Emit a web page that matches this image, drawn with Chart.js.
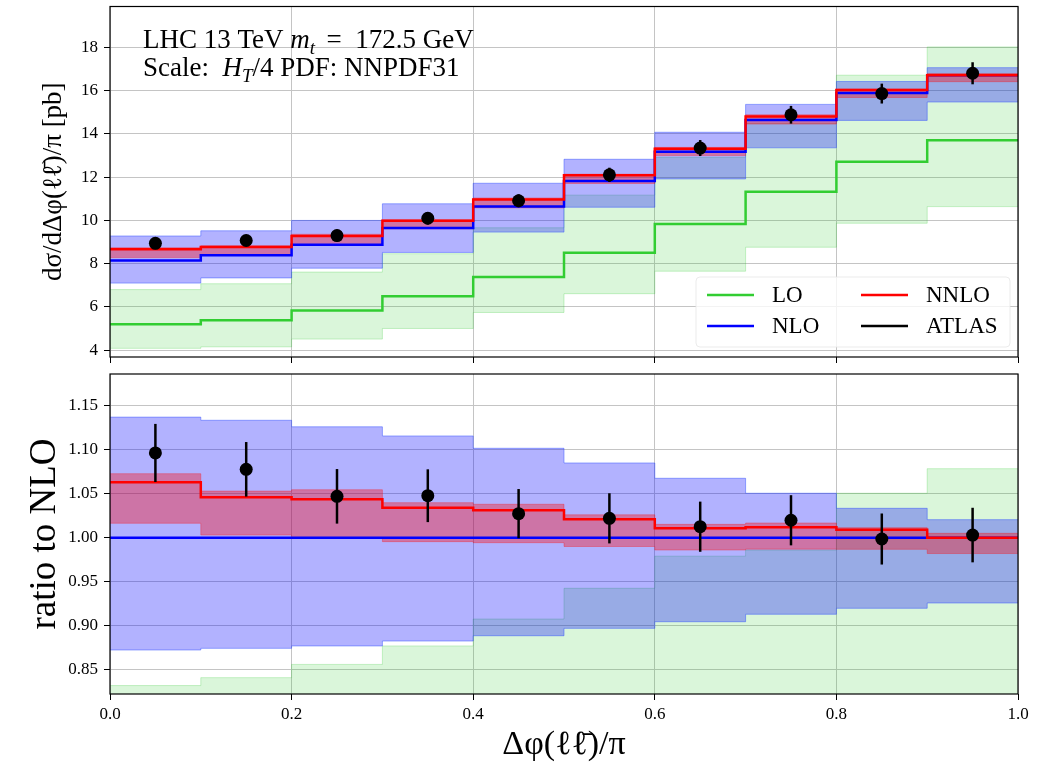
<!DOCTYPE html>
<html>
<head>
<meta charset="utf-8">
<script src="https://cdn.jsdelivr.net/npm/chart.js@4.4.1/dist/chart.umd.min.js"></script>
<style>
  body { margin: 0; background: #fff; }
  #wrap { position: relative; width: 1054px; height: 767px; }
  canvas { position: absolute; left: 0; }
</style>
</head>
<body>
<div id="wrap">
  <canvas id="top" width="1054" height="370" style="top:0px"></canvas>
  <canvas id="ratio" width="1054" height="402" style="top:365px"></canvas>
</div>
<script>
// bins in Δφ/π
const binEdges = [0, 0.1, 0.2, 0.3, 0.4, 0.5, 0.6, 0.7, 0.8, 0.9, 1.0];
const binCenters = [0.05, 0.15, 0.25, 0.35, 0.45, 0.55, 0.65, 0.75, 0.85, 0.95];
const xTicks = [0, 0.2, 0.4, 0.6, 0.8, 1.0];

// upper panel, pb
const loCentral = [5.20, 5.38, 5.83, 6.49, 7.38, 8.50, 9.84, 11.33, 12.71, 13.71];
const loUp = [6.80, 7.07, 7.61, 8.46, 9.66, 11.17, 12.92, 14.50, 16.72, 18.03];
const loDown = [4.08, 4.15, 4.51, 5.00, 5.74, 6.61, 7.65, 8.76, 9.87, 10.64];
const nloCentral = [8.15, 8.39, 8.88, 9.65, 10.64, 11.83, 13.18, 14.65, 15.90, 16.72];
const nloUp = [9.28, 9.52, 10.0, 10.77, 11.72, 12.83, 14.08, 15.37, 16.43, 17.07];
const nloDown = [7.10, 7.34, 7.79, 8.52, 9.46, 10.61, 11.92, 13.36, 14.63, 15.48];
const nnloCentral = [8.67, 8.77, 9.28, 9.98, 10.97, 12.09, 13.32, 14.81, 16.04, 16.72];
const nnloUp = [8.74, 8.83, 9.36, 10.03, 11.04, 12.14, 13.38, 14.89, 16.08, 16.80];
const nnloDown = [8.28, 8.42, 8.87, 9.61, 10.58, 11.71, 13.00, 14.46, 15.69, 16.42];
const atlas = [8.94, 9.07, 9.30, 10.10, 10.91, 12.11, 13.35, 14.89, 15.87, 16.81];
const atlasErr = [0.27, 0.26, 0.28, 0.29, 0.30, 0.33, 0.37, 0.41, 0.46, 0.51];
const topTicks = [4, 6, 8, 10, 12, 14, 16, 18];

// lower panel, ratio to NLO
const loRatioUp = [0.832, 0.841, 0.856, 0.877, 0.9076, 0.9425, 0.979, 0.986, 1.0505, 1.0784];
const nloRatio = [1, 1, 1, 1, 1, 1, 1, 1, 1, 1];
const nloRatioUp = [1.137, 1.1334, 1.126, 1.1156, 1.1016, 1.0849, 1.0675, 1.0505, 1.0334, 1.0205];
const nloRatioDown = [0.8724, 0.8743, 0.877, 0.8826, 0.8886, 0.897, 0.9045, 0.913, 0.9198, 0.9258];
const nnloRatio = [1.063, 1.0459, 1.0436, 1.0341, 1.0311, 1.021, 1.0107, 1.0118, 1.009, 1.0];
const nnloRatioUp = [1.0727, 1.053, 1.0545, 1.0398, 1.038, 1.026, 1.0152, 1.0167, 1.0114, 1.005];
const nnloRatioDown = [1.0164, 1.003, 0.999, 0.9955, 0.9943, 0.990, 0.986, 0.987, 0.9868, 0.982];
const atlasRatio = [1.0963, 1.0777, 1.047, 1.0477, 1.0273, 1.022, 1.0125, 1.0198, 0.9985, 1.003];
const atlasRatioErr = [0.033, 0.031, 0.031, 0.030, 0.028, 0.0285, 0.0285, 0.0285, 0.029, 0.031];
const ratioTicks = [0.85, 0.90, 0.95, 1.00, 1.05, 1.10, 1.15];

const FONT = "'Liberation Serif', 'DejaVu Serif', serif";
const GREEN = '#32cd32', BLUE = '#0000ff', RED = '#ff0000';
const GRID = '#c4c4c4';

// histogram steps: value i holds from edge i to edge i+1
function steps(vals) {
  return binEdges.map((x, i) => ({ x: x, y: vals[Math.max(i - 1, 0)] }));
}
function points(vals) {
  return binCenters.map((x, i) => ({ x: x, y: vals[i] }));
}
function stepLine(vals, color, width, order, extra) {
  return Object.assign({
    type: 'line', data: steps(vals), stepped: 'after', borderColor: color,
    borderWidth: width, pointRadius: 0, fill: false, order: order
  }, extra || {});
}

// plugins
const errbars = {
  id: 'errbars',
  afterDatasetsDraw(chart) {
    const { ctx, scales: { x, y } } = chart;
    chart.data.datasets.forEach(ds => {
      if (!ds.errs) return;
      ctx.save();
      ctx.strokeStyle = '#000';
      ctx.lineWidth = 2.5;
      ds.data.forEach((p, i) => {
        const px = x.getPixelForValue(p.x);
        ctx.beginPath();
        ctx.moveTo(px, y.getPixelForValue(p.y - ds.errs[i]));
        ctx.lineTo(px, y.getPixelForValue(p.y + ds.errs[i]));
        ctx.stroke();
      });
      ctx.restore();
    });
  }
};
const frame = {
  id: 'frame',
  afterDraw(chart) {
    const { ctx, chartArea: a } = chart;
    ctx.save();
    ctx.strokeStyle = '#000';
    ctx.lineWidth = 1.2;
    ctx.strokeRect(a.left, a.top, a.right - a.left, a.bottom - a.top);
    ctx.restore();
  }
};

function drawRuns(ctx, x, y, runs, size) {
  runs.forEach(r => {
    const s = r.sub ? size * 0.7 : size;
    ctx.font = (r.it ? 'italic ' : '') + s + 'px ' + FONT;
    ctx.fillText(r.t, x, r.sub ? y + size * 0.25 : y);
    x += ctx.measureText(r.t).width;
  });
}
const annotation = {
  id: 'annotation',
  afterDatasetsDraw(chart) {
    const { ctx, chartArea: a } = chart;
    ctx.save();
    ctx.fillStyle = '#000';
    ctx.textBaseline = 'alphabetic';
    ctx.textAlign = 'left';
    drawRuns(ctx, a.left + 33, a.top + 41, [
      { t: 'LHC 13 TeV ' }, { t: 'm', it: true }, { t: 't ', it: true, sub: true },
      { t: ' =  172.5 GeV' }
    ], 27);
    drawRuns(ctx, a.left + 33, a.top + 69, [
      { t: 'Scale:  ' }, { t: 'H', it: true }, { t: 'T', it: true, sub: true },
      { t: '/4 PDF: NNPDF31' }
    ], 27);
    ctx.restore();
  }
};

const legendItems = [
  { label: 'LO', color: GREEN }, { label: 'NLO', color: BLUE },
  { label: 'NNLO', color: RED }, { label: 'ATLAS', color: '#000' }
];
const legendBox = {
  id: 'legendBox',
  afterDatasetsDraw(chart) {
    const { ctx, chartArea: a } = chart;
    const w = 314, h = 70;
    const bx = a.right - 8 - w, by = a.bottom - 10 - h;
    ctx.save();
    ctx.fillStyle = 'rgba(255,255,255,0.8)';
    ctx.strokeStyle = 'rgba(230,230,230,0.8)';
    ctx.lineWidth = 1;
    ctx.beginPath();
    ctx.roundRect(bx, by, w, h, 4);
    ctx.fill();
    ctx.stroke();
    ctx.font = '23px ' + FONT;
    ctx.textBaseline = 'middle';
    legendItems.forEach((it, i) => {
      const col = Math.floor(i / 2), row = i % 2;
      const lx = bx + 11 + col * 154;
      const ly = by + 18 + row * 31;
      ctx.strokeStyle = it.color;
      ctx.lineWidth = 2.5;
      ctx.beginPath();
      ctx.moveTo(lx, ly);
      ctx.lineTo(lx + 47, ly);
      ctx.stroke();
      ctx.fillStyle = '#000';
      ctx.fillText(it.label, lx + 65, ly + 1);
    });
    ctx.restore();
  }
};

function yScale(min, max, ticks, fmt, title, titleSize, titlePad) {
  return {
    type: 'linear', min: min, max: max,
    afterBuildTicks: s => { s.ticks = ticks.map(v => ({ value: v })); },
    afterFit: s => { s.width = 110; s.paddingTop = 0; s.paddingBottom = 0; },
    ticks: { font: { family: FONT, size: 17 }, color: '#000', padding: 6, callback: fmt },
    grid: { color: GRID, lineWidth: 1, tickColor: '#000', tickLength: 6 },
    border: { display: false },
    title: {
      display: true, text: title, color: '#000',
      font: { family: FONT, size: titleSize }, padding: { top: titlePad, bottom: 0 }
    }
  };
}
function xScale(showLabels, height) {
  return {
    type: 'linear', min: 0, max: 1,
    afterBuildTicks: s => { s.ticks = xTicks.map(v => ({ value: v })); },
    afterFit: s => { s.height = height; s.paddingLeft = 0; s.paddingRight = 0; },
    ticks: {
      display: showLabels, font: { family: FONT, size: 17 }, color: '#000', padding: 4,
      maxRotation: 0, autoSkip: false, callback: v => v.toFixed(1)
    },
    grid: { color: GRID, lineWidth: 1, tickColor: '#000', tickLength: 6 },
    border: { display: false },
    title: {
      display: showLabels, text: 'Δφ(ℓℓ̄)/π', color: '#000',
      font: { family: FONT, size: 34 }, padding: { top: 0, bottom: 2 }
    }
  };
}
const common = {
  responsive: false, animation: false,
  plugins: { legend: { display: false }, tooltip: { enabled: false } }
};

// upper panel
new Chart(document.getElementById('top'), {
  type: 'line',
  data: {
    datasets: [
      stepLine(loDown, 'rgba(50,205,50,0.25)', 1, 6),
      stepLine(loUp, 'rgba(50,205,50,0.25)', 1, 6, { fill: { target: 0 }, backgroundColor: 'rgba(50,205,50,0.18)' }),
      stepLine(nloDown, 'rgba(40,70,255,0.45)', 1, 5),
      stepLine(nloUp, 'rgba(40,70,255,0.45)', 1, 5, { fill: { target: 2 }, backgroundColor: 'rgba(0,0,255,0.3)' }),
      stepLine(nnloDown, 'rgba(255,0,0,0.3)', 1, 4),
      stepLine(nnloUp, 'rgba(255,0,0,0.3)', 1, 4, { fill: { target: 4 }, backgroundColor: 'rgba(255,0,0,0.35)' }),
      stepLine(loCentral, GREEN, 2.5, 3),
      stepLine(nloCentral, BLUE, 2.5, 2),
      stepLine(nnloCentral, RED, 2.5, 1),
      {
        type: 'line', data: points(atlas), errs: atlasErr, showLine: false, order: 0,
        pointRadius: 6.5, pointBackgroundColor: '#000', pointBorderWidth: 0
      }
    ]
  },
  options: Object.assign({}, common, {
    layout: { padding: { left: 0, right: 36, top: 6, bottom: 0 } },
    scales: {
      x: xScale(false, 13),
      y: yScale(3.68, 19.9, topTicks, v => String(v), 'dσ/dΔφ(ℓℓ̄)/π [pb]', 27, 38)
    }
  }),
  plugins: [errbars, annotation, legendBox, frame]
});

// lower panel
new Chart(document.getElementById('ratio'), {
  type: 'line',
  data: {
    datasets: [
      stepLine(loRatioUp, 'rgba(50,205,50,0.25)', 1, 6, { fill: 'start', backgroundColor: 'rgba(50,205,50,0.18)' }),
      stepLine(nloRatioDown, 'rgba(40,70,255,0.45)', 1, 5),
      stepLine(nloRatioUp, 'rgba(40,70,255,0.45)', 1, 5, { fill: { target: 1 }, backgroundColor: 'rgba(0,0,255,0.3)' }),
      stepLine(nnloRatioDown, 'rgba(255,0,0,0.3)', 1, 4),
      stepLine(nnloRatioUp, 'rgba(255,0,0,0.3)', 1, 4, { fill: { target: 3 }, backgroundColor: 'rgba(255,0,0,0.35)' }),
      stepLine(nloRatio, BLUE, 2.5, 2),
      stepLine(nnloRatio, RED, 2.5, 1),
      {
        type: 'line', data: points(atlasRatio), errs: atlasRatioErr, showLine: false, order: 0,
        pointRadius: 6.5, pointBackgroundColor: '#000', pointBorderWidth: 0
      }
    ]
  },
  options: Object.assign({}, common, {
    layout: { padding: { left: 0, right: 36, top: 9, bottom: 0 } },
    scales: {
      x: xScale(true, 73),
      y: yScale(0.8224, 1.186, ratioTicks, v => v.toFixed(2), 'ratio to NLO', 37, 23)
    }
  }),
  plugins: [errbars, frame]
});
</script>
</body>
</html>
